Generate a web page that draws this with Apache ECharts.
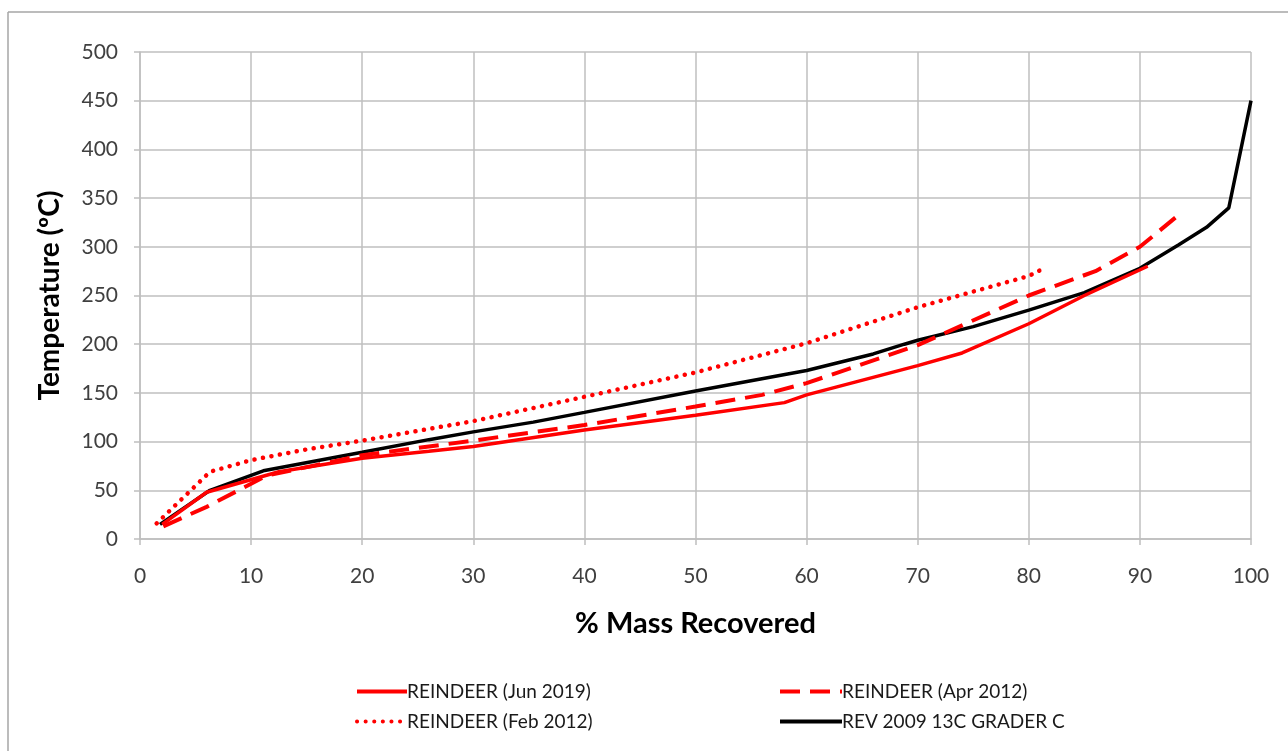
<!DOCTYPE html>
<html>
<head>
<meta charset="utf-8">
<script src="https://cdn.jsdelivr.net/npm/echarts@6/dist/echarts.min.js"></script>
<style>
html,body{margin:0;padding:0;background:#fff;}
#c{width:1288px;height:751px;}
</style>
</head>
<body>
<div id="c"></div>
<script>
// % mass recovered vs temperature (°C)
const jun2019 = [[2,15],[6,48],[12.5,69],[20,83],[26,90],[30,95],[40,112],[50,127],[58,140],[60,148],[70,178],[74,191],[80,221],[85,250],[90.7,280]];
const apr2012 = [[2.1,13],[6,33],[11.4,65],[20,86],[26,95],[30,101],[40,117],[50,136],[56,148],[60,160],[70,199],[80,250],[86,275],[90,300],[93.2,330]];
const feb2012 = [[1.5,16],[6.3,69],[10,81],[15,92],[20,101],[30,121],[40,146],[50,171],[60,201],[70,238],[80,270],[81.2,277]];
const rev2009 = [[1.8,15],[6.3,50],[11.1,70],[20,89],[26,102],[30,110],[35.4,120],[40,130],[50,152],[60,173],[66,190],[68.8,200],[70,204],[75,218],[80,235],[85,253],[90,278],[93.5,302],[96,320],[98,340],[100,450]];
const seriesNames = ['REINDEER (Jun 2019)','REINDEER (Apr 2012)','REINDEER (Feb 2012)','REV 2009 13C GRADER C'];

const FONT = 'Lato';
const chart = echarts.init(document.getElementById('c'));
const gridColor = '#bfbfbf';
chart.setOption({
  animation: false,
  textStyle: {fontFamily: FONT},
  graphic: [
    {type:'line', shape:{x1:8,y1:12,x2:1288,y2:12}, style:{stroke:'#a6a6a6', lineWidth:1.5}},
    {type:'line', shape:{x1:8,y1:12,x2:8,y2:751}, style:{stroke:'#a6a6a6', lineWidth:1.5}}
  ],
  grid: {left:140, right:37, top:52, bottom:212, containLabel:false},
  xAxis: {
    type:'value', min:0, max:100, interval:10,
    name:'% Mass Recovered', nameLocation:'middle', nameGap:70,
    nameTextStyle:{fontSize:29, fontWeight:'bold', color:'#000', fontFamily:FONT},
    axisLine:{show:true, lineStyle:{color:gridColor, width:1.5}},
    axisTick:{show:true, length:6, lineStyle:{color:gridColor, width:1.5}},
    axisLabel:{fontSize:21, color:'#404040', margin:27, fontFamily:FONT},
    splitLine:{show:true, lineStyle:{color:gridColor, width:1.5}}
  },
  yAxis: {
    type:'value', min:0, max:500, interval:50,
    name:'Temperature (ºC)', nameLocation:'middle', nameGap:76,
    nameTextStyle:{fontSize:28, fontWeight:'bold', color:'#000', fontFamily:FONT},
    axisLine:{show:true, lineStyle:{color:gridColor, width:1.5}},
    axisTick:{show:true, length:6, lineStyle:{color:gridColor, width:1.5}},
    axisLabel:{fontSize:21, color:'#404040', margin:22, fontFamily:FONT},
    splitLine:{show:true, lineStyle:{color:gridColor, width:1.5}}
  },
  legend: [
    {left:350, top:677, orient:'vertical', itemGap:11, itemWidth:50, itemHeight:22,
     itemStyle:{opacity:0}, lineStyle:{width:4},
     data:[seriesNames[0], seriesNames[2]],
     textStyle:{fontSize:19, color:'#1a1a1a', fontFamily:FONT, padding:[0,0,0,-5]}},
    {left:773, top:677, orient:'vertical', itemGap:11, itemWidth:62, itemHeight:22,
     itemStyle:{opacity:0}, lineStyle:{width:4},
     data:[seriesNames[1], seriesNames[3]],
     textStyle:{fontSize:19, color:'#1a1a1a', fontFamily:FONT, padding:[0,0,0,-5]}}
  ],
  series: [
    {name:seriesNames[0], type:'line', data:jun2019, symbol:'none',
     lineStyle:{color:'#ff0000', width:3.5}, itemStyle:{color:'#ff0000'}, z:3},
    {name:seriesNames[1], type:'line', data:apr2012, symbol:'none',
     lineStyle:{color:'#ff0000', width:4, type:[20,10]}, itemStyle:{color:'#ff0000'}, z:4},
    {name:seriesNames[2], type:'line', data:feb2012, symbol:'none',
     lineStyle:{color:'#ff0000', width:4.5, type:[0.1,8.5], cap:'round'}, itemStyle:{color:'#ff0000'}, z:4},
    {name:seriesNames[3], type:'line', data:rev2009, symbol:'none',
     lineStyle:{color:'#000000', width:3.5}, itemStyle:{color:'#000000'}, z:2}
  ]
});
</script>
</body>
</html>
